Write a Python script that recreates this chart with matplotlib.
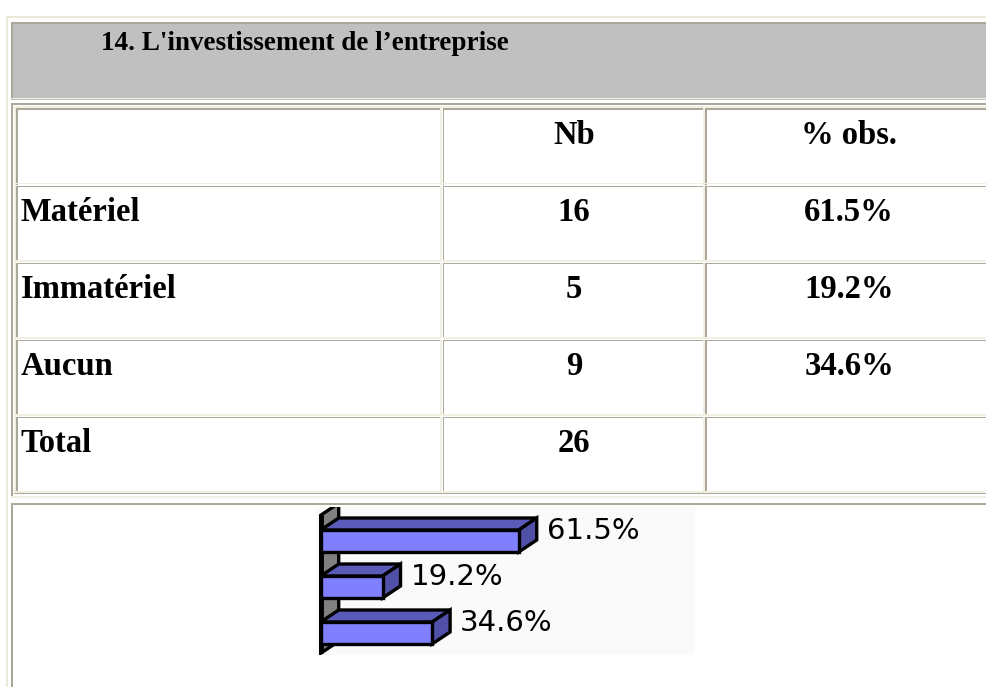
import matplotlib
matplotlib.use('agg')
import matplotlib.pyplot as plt
from matplotlib.patches import Rectangle, Polygon

# table data
title = "14. L'investissement de l\u2019entreprise"
header = ['', 'Nb', '% obs.']
categories = ['Matériel', 'Immatériel', 'Aucun', 'Total']
counts = [16, 5, 9, 26]
pct_text = ['61.5%', '19.2%', '34.6%', '']

# bar chart data
bar_values = [61.5, 19.2, 34.6]
bar_labels = ['61.5%', '19.2%', '34.6%']

DARK = '#ACA899'
LIGHT = '#F1EFE2'
W, H = 987, 687

fig = plt.figure(figsize=(W / 100, H / 100), dpi=100)
fig.patch.set_facecolor('white')
ax = fig.add_axes([0, 0, 1, 1])
ax.set_xlim(0, W)
ax.set_ylim(H, 0)
ax.axis('off')


def box(x0, y0, x1, y1, color):
    ax.add_patch(Rectangle((x0, y0), x1 - x0, y1 - y0, color=color, lw=0))


def cell(x0, y0, x1, y1, fill=None, t=1.6):
    # inset border: dark top/left, light bottom/right
    if fill:
        box(x0, y0, x1, y1, fill)
    box(x0, y0, x1, y0 + t, DARK)
    box(x0, y0, x0 + t, y1, DARK)
    box(x0, y1 - t, x1, y1, LIGHT)
    box(x1 - t, y0, x1, y1, LIGHT)


# outer table (outset: light top/left)
box(6, 16, 8, H + 5, '#ECE9D8')
box(6, 16, W + 5, 18, '#ECE9D8')

# title cell
cell(11, 22, W + 8, 99.5, fill='#C0C0C0')
ax.text(305, 50.5, title, ha='center', va='baseline', fontsize=19.5,
        fontweight='bold', family='Liberation Serif', color='black')

# cell holding the inner table
cell(11, 103, W + 8, 497.5)
box(14, 106, W + 8, 107.5, LIGHT)
box(14, 106, 15.5, 494, LIGHT)
box(14, 492.5, W + 8, 494, DARK)

# inner table
row_tops = [108, 185.5, 262.5, 339.5, 416.5]
row_h = 77
col_x0 = [16, 442.5, 705]
col_x1 = [442, 704.5, W + 8]
col_text_x = [20.5, 574, 849]

rows = [header] + [[c, str(n), p] for c, n, p in zip(categories, counts, pct_text)]
for r, (top, row) in enumerate(zip(row_tops, rows)):
    for c in range(3):
        cell(col_x0[c], top, col_x1[c], top + row_h - 0.5)
        ha = 'left' if c == 0 else 'center'
        ax.text(col_text_x[c], top + 35.5, row[c], ha=ha, va='baseline',
                fontsize=23.5, fontweight='bold', family='Liberation Serif',
                color='black')

# chart cell
cell(11, 503, W + 8, H + 20)

# --- 3D-look horizontal bar chart ---
px0, px1, py0, py1 = 316, 695, 507, 655
kx = 3.22   # pixels per percent
ky = 46.0   # pixels per category step
ax_c = fig.add_axes([px0 / W, 1 - py1 / H, (px1 - px0) / W, (py1 - py0) / H])
ax_c.set_facecolor('#FAFAFA')
xmin = -4.7 / kx
ax_c.set_xlim(xmin, xmin + (px1 - px0) / kx)
ytop = -34 / ky
ax_c.set_ylim(ytop + (py1 - py0) / ky, ytop)
for s in ax_c.spines.values():
    s.set_visible(False)
ax_c.set_xticks([])
ax_c.set_yticks([])

dx = 18 / kx
dy = 12 / ky
bh = 22 / ky
n = len(bar_values)
lw = 2.4

# back wall
wall_top, wall_bot = -0.56, n - 0.56
ax_c.add_patch(Polygon([(0, wall_top), (dx, wall_top - dy), (dx, wall_bot - dy),
                        (0, wall_bot)], closed=True, facecolor='#808080',
                       edgecolor='black', lw=lw, zorder=1))
ax_c.plot([0, 0], [wall_top, wall_bot], color='black', lw=3.5, zorder=1,
          solid_capstyle='butt')

for i, (v, lab) in enumerate(zip(bar_values, bar_labels)):
    t, b = i - bh / 2, i + bh / 2
    top_face = [(0, t), (v, t), (v + dx, t - dy), (dx, t - dy)]
    side_face = [(v, t), (v + dx, t - dy), (v + dx, b - dy), (v, b)]
    ax_c.add_patch(Polygon(top_face, closed=True, facecolor='#5A5AB8',
                           edgecolor='black', lw=lw, zorder=2))
    ax_c.add_patch(Polygon(side_face, closed=True, facecolor='#5050A8',
                           edgecolor='black', lw=lw, zorder=2))
    ax_c.barh(i, v, height=bh, left=0, color='#8080FF', edgecolor='black',
              lw=lw, zorder=3)
    ax_c.text(v + dx + 10 / kx, t + 0.02, lab, ha='left', va='center',
              fontsize=21, family='DejaVu Sans', color='black', zorder=4)

fig.savefig('out.png', dpi=100, facecolor='white')
